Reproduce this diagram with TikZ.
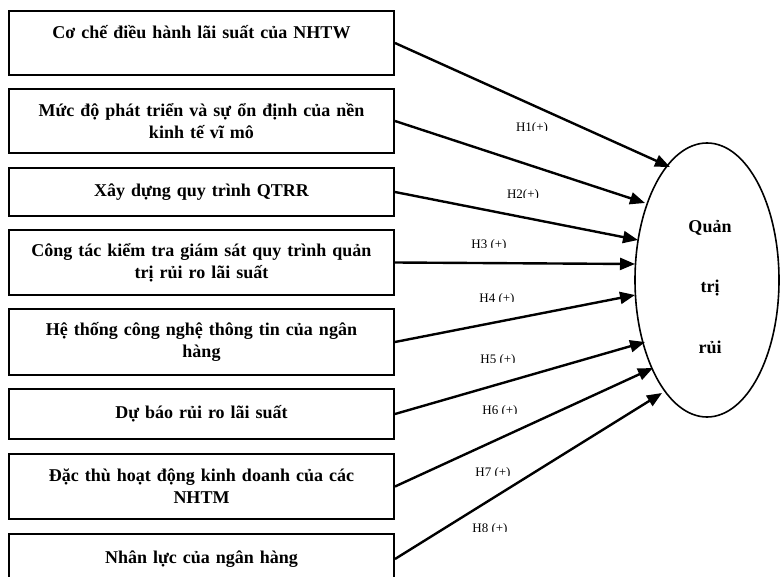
\documentclass[tikz,border=0pt]{standalone}
\usepackage{fontspec}
\setmainfont{Liberation Serif}
\usetikzlibrary{arrows.meta,shapes.geometric}
\begin{document}
\begin{tikzpicture}[x=1pt,y=-1pt,
  factor/.style={draw,line width=2pt,anchor=north west,minimum width=385pt,
    text width=370pt,align=center,inner sep=0pt,
    font=\fontsize{18}{22}\selectfont\bfseries},
  link/.style={line width=2.4pt,-{Triangle[length=15pt,width=12pt]}},
  hyp/.style={font=\fontsize{13}{14}\selectfont,inner sep=0pt,anchor=base},
  goal/.style={draw,ellipse,line width=1.6pt,minimum width=144pt,minimum height=274pt,inner sep=0pt},
  goaltext/.style={font=\fontsize{18}{22}\selectfont\bfseries}]
\useasboundingbox (0,0) rectangle (781,577);

% factors
\node[factor,minimum height=64pt] (b1) at (8,10) {Cơ chế điều hành lãi suất của NHTW\\ \mbox{}};
\node[factor,minimum height=64pt] (b2) at (8,88) {Mức độ phát triển và sự ổn định của nền\\ kinh tế vĩ mô};
\node[factor,minimum height=48pt] (b3) at (8,167) {Xây dựng quy trình QTRR};
\node[factor,minimum height=65pt] (b4) at (8,229) {Công tác kiểm tra giám sát quy trình quản\\ trị rủi ro lãi suất};
\node[factor,minimum height=66pt] (b5) at (8,308) {Hệ thống công nghệ thông tin của ngân\\ hàng};
\node[factor,minimum height=50pt] (b6) at (8,388) {Dự báo rủi ro lãi suất};
\node[factor,minimum height=65pt] (b7) at (8,453) {Đặc thù hoạt động kinh doanh của các\\ NHTM};
\node[factor,minimum height=50pt] (b8) at (8,533) {Nhân lực của ngân hàng};

% outcome
\node[goal] (q) at (707,280) {};
\node[goaltext] (q1) at (710,228) {Quản};
\node[goaltext] (q2) at (710,288) {trị};
\node[goaltext] (q3) at (710,347) {rủi};

% arrow tips on the ellipse
\coordinate (t1) at (670,167);
\coordinate (t2) at (645,203);
\coordinate (t3) at (638,240);
\coordinate (t4) at (635,264);
\coordinate (t5) at (635,295);
\coordinate (t6) at (645,342);
\coordinate (t7) at (653,368);
\coordinate (t8) at (662,393);

\draw[link] (b1.east) -- (t1);
\draw[link] (b2.east) -- (t2);
\draw[link] (b3.east) -- (t3);
\draw[link] (b4.east) -- (t4);
\draw[link] (b5.east) -- (t5);
\draw[link] (b6.east) -- (t6);
\draw[link] (b7.east) -- (t7);
\draw[link] (b8.east) -- (t8);

% hypothesis labels, their text frames cut off the lower part
\begin{scope}\clip (500,110) rectangle (565,131);
  \node[hyp] (h1) at (532,132) {H1(+)};\end{scope}
\begin{scope}\clip (490,177) rectangle (556,198);
  \node[hyp] (h2) at (523,199) {H2(+)};\end{scope}
\begin{scope}\clip (455,227) rectangle (525,248);
  \node[hyp] (h3) at (489,249) {H3 (+)};\end{scope}
\begin{scope}\clip (463,280) rectangle (533,301);
  \node[hyp] (h4) at (497,302) {H4 (+)};\end{scope}
\begin{scope}\clip (464,341) rectangle (534,362);
  \node[hyp] (h5) at (498,363) {H5 (+)};\end{scope}
\begin{scope}\clip (466,392) rectangle (536,413);
  \node[hyp] (h6) at (500,414) {H6 (+)};\end{scope}
\begin{scope}\clip (459,454) rectangle (529,475);
  \node[hyp] (h7) at (493,476) {H7 (+)};\end{scope}
\begin{scope}\clip (456,510) rectangle (526,531);
  \node[hyp] (h8) at (490,532) {H8 (+)};\end{scope}
\end{tikzpicture}
\end{document}
